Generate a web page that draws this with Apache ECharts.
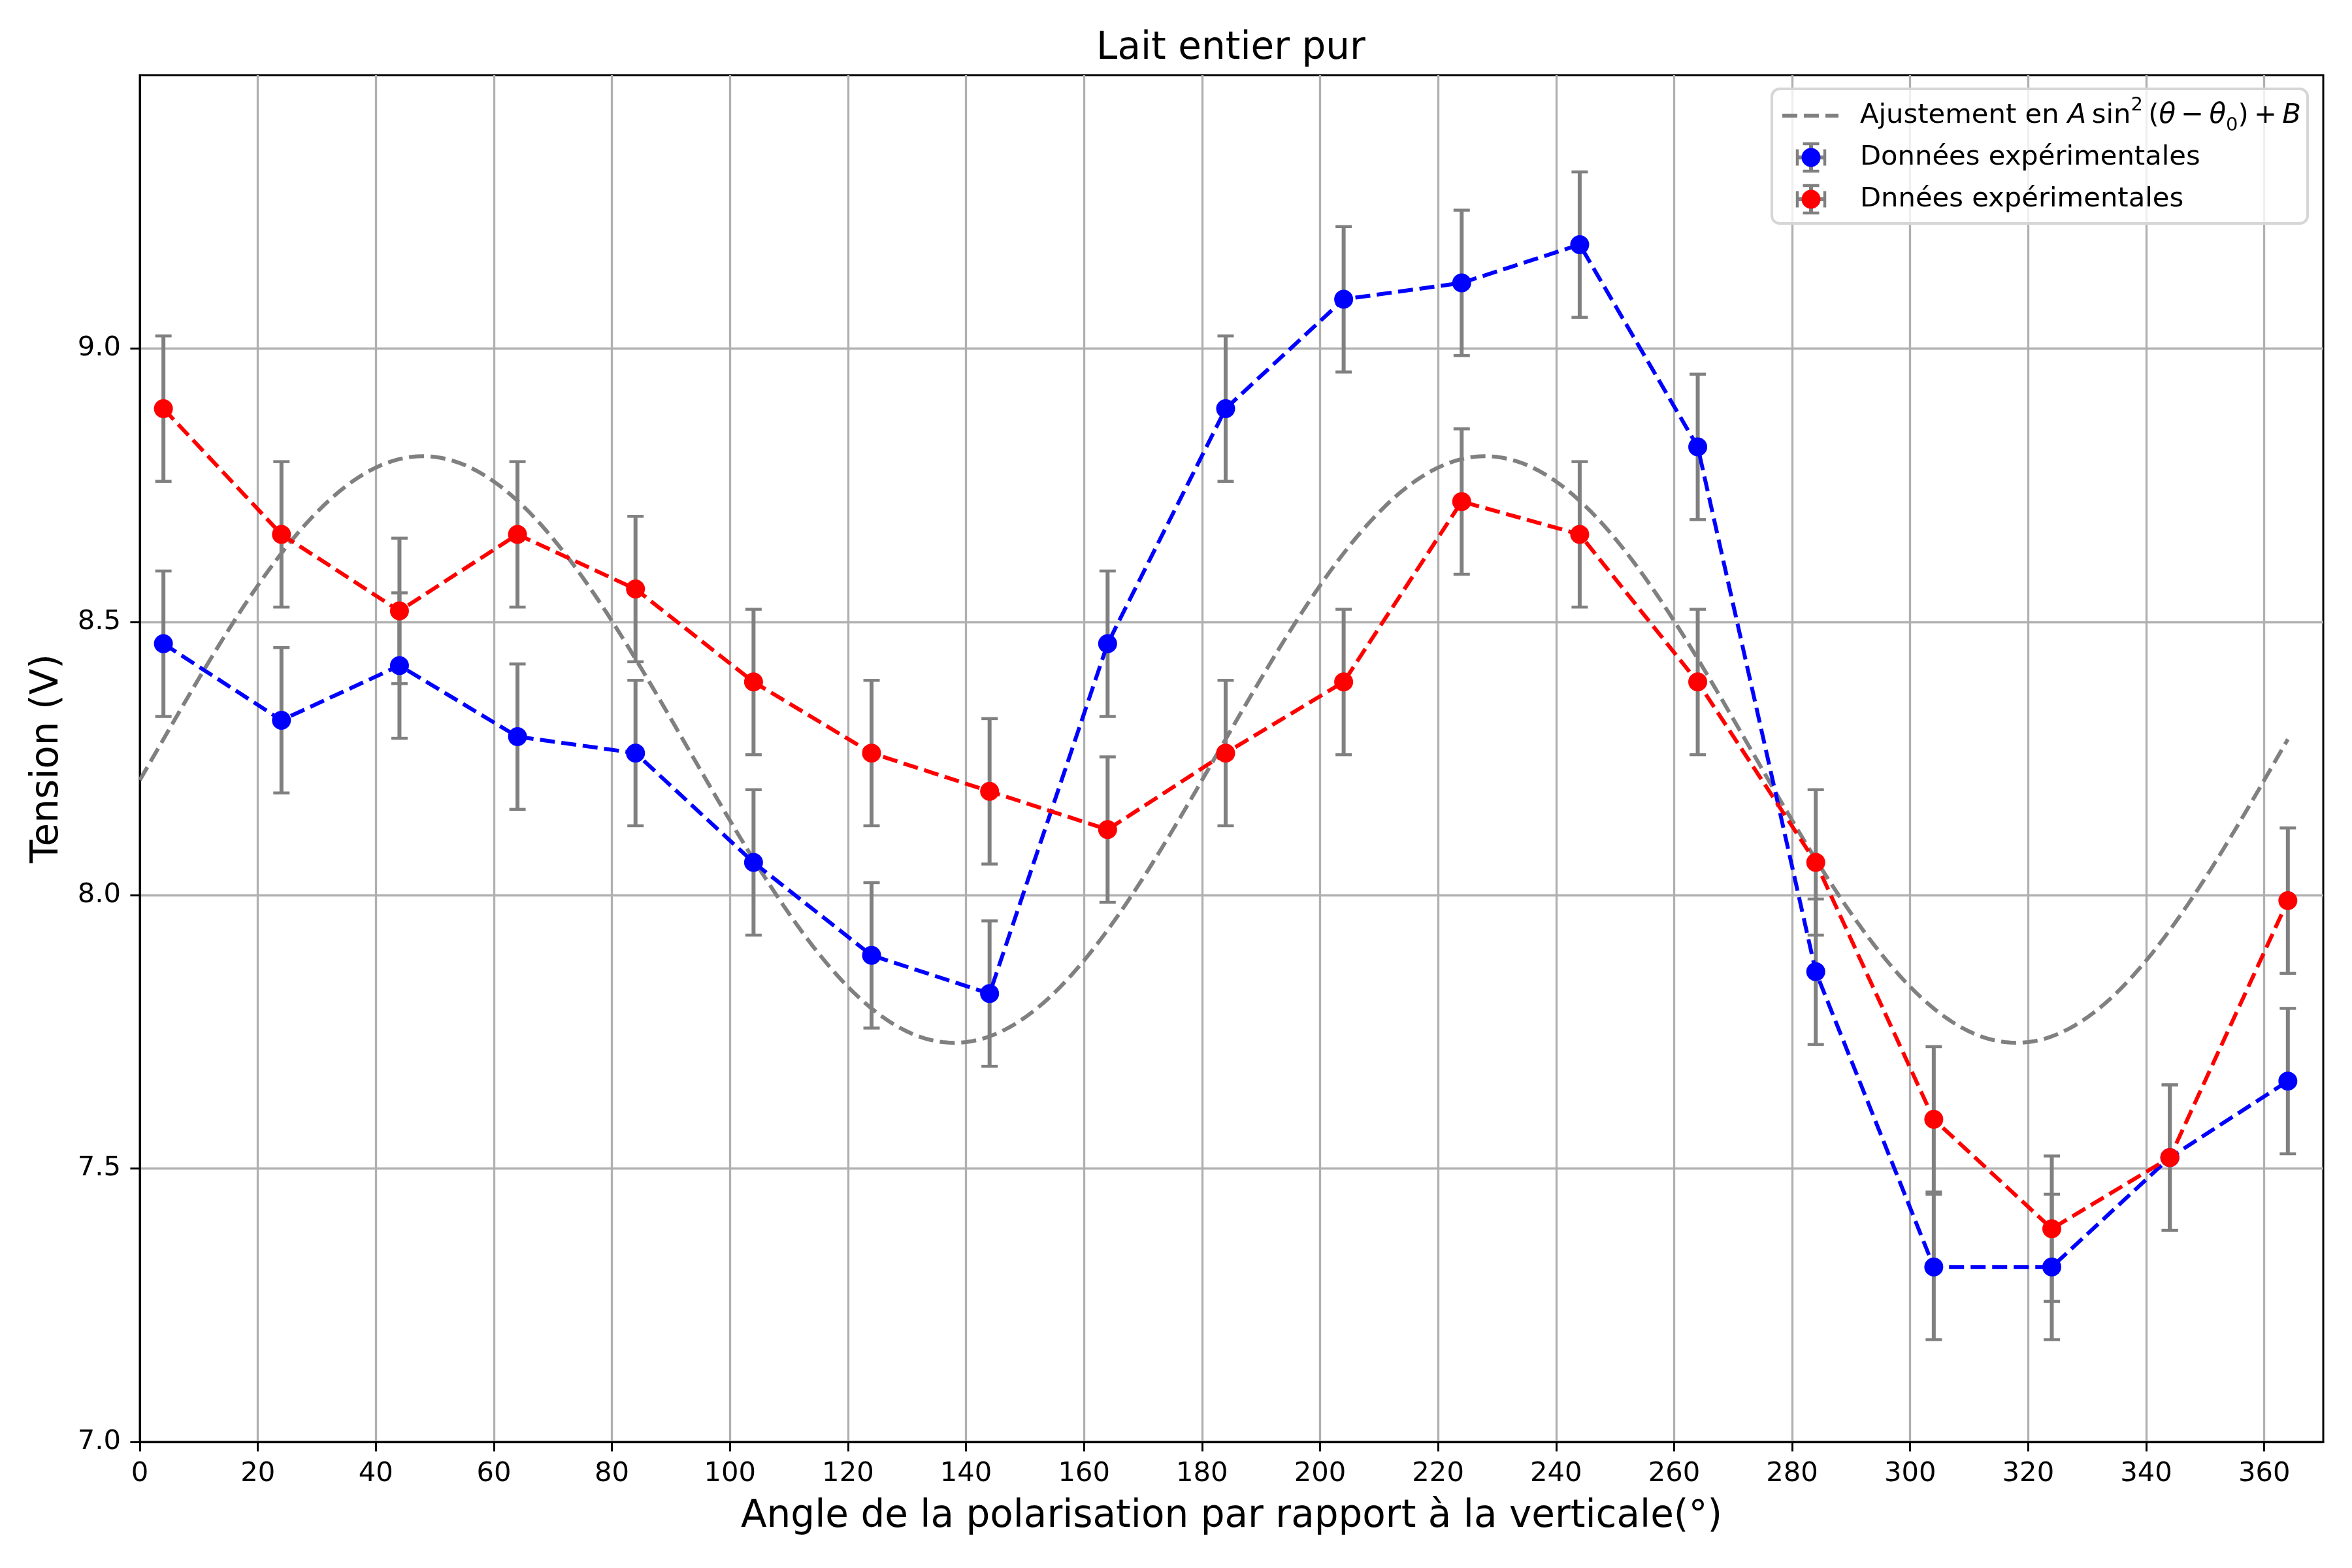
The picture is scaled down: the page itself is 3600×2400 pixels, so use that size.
<!DOCTYPE html>
<html>
<head>
<meta charset="utf-8">
<script src="https://cdn.jsdelivr.net/npm/echarts@6/dist/echarts.min.js"></script>
<style>html,body{margin:0;padding:0;background:#fff}#c{width:3600px;height:2400px}</style>
</head>
<body>
<div id="c"></div>
<script>
// ---- data ----
const angles = [4, 24, 44, 64, 84, 104, 124, 144, 164, 184, 204, 224, 244, 264, 284, 304, 324, 344, 364];
const tensionBleu = [8.46, 8.32, 8.42, 8.29, 8.26, 8.06, 7.89, 7.82, 8.46, 8.89, 9.09, 9.12, 9.19, 8.82, 7.86, 7.32, 7.32, 7.52, 7.66];
const tensionRouge = [8.89, 8.66, 8.52, 8.66, 8.56, 8.39, 8.26, 8.19, 8.12, 8.26, 8.39, 8.72, 8.66, 8.39, 8.06, 7.59, 7.39, 7.52, 7.99];
const erreurBleu = [0.133, 0.133, 0.133, 0.133, 0.133, 0.133, 0.133, 0.133, 0.133, 0.133, 0.133, 0.133, 0.133, 0.133, 0.133, 0.133, 0.133, 0.133, 0.133];
const erreurRouge = [0.133, 0.133, 0.133, 0.133, 0.133, 0.133, 0.133, 0.133, 0.133, 0.133, 0.133, 0.133, 0.133, 0.133, 0.133, 0.133, 0.133, 0.133, 0.133];
// fitted model A*sin^2(theta - theta0) + B (parameters read from the drawn fit)
const fitA = 1.073;
const fitB = 7.730;
const fitTheta0 = 138;
const fitRange = [0, 364];
const xTicks = [0, 20, 40, 60, 80, 100, 120, 140, 160, 180, 200, 220, 240, 260, 280, 300, 320, 340, 360];
const yTicks = [7.0, 7.5, 8.0, 8.5, 9.0];

// ---- build ----
const fitData = [];
for (let t = fitRange[0]; t <= fitRange[1]; t += 1) {
  const s = Math.sin((t - fitTheta0) * Math.PI / 180);
  fitData.push([t, fitA * s * s + fitB]);
}
const bleuPts = angles.map((a, i) => [a, tensionBleu[i]]);
const rougePts = angles.map((a, i) => [a, tensionRouge[i]]);
const bleuErr = angles.map((a, i) => [a, tensionBleu[i], erreurBleu[i]]);
const rougeErr = angles.map((a, i) => [a, tensionRouge[i], erreurRouge[i]]);

const FONT = 'DejaVu Sans';
const GRAY = '#808080';
const DASH = [23, 10];
const CAP = 12.5;

function errRender(params, api) {
  const x = api.value(0), y = api.value(1), e = api.value(2);
  const top = api.coord([x, y + e]);
  const bot = api.coord([x, y - e]);
  const st = { stroke: GRAY, lineWidth: 6 };
  const cs = { stroke: GRAY, lineWidth: 4.5 };
  return {
    type: 'group',
    children: [
      { type: 'line', shape: { x1: top[0], y1: top[1], x2: bot[0], y2: bot[1] }, style: st },
      { type: 'line', shape: { x1: top[0] - CAP, y1: top[1], x2: top[0] + CAP, y2: top[1] }, style: cs },
      { type: 'line', shape: { x1: bot[0] - CAP, y1: bot[1], x2: bot[0] + CAP, y2: bot[1] }, style: cs }
    ]
  };
}

function errHandle(cx, cy, color) {
  const r = 21;
  const cs = { stroke: GRAY, lineWidth: 4.5 };
  const st = { stroke: GRAY, lineWidth: 6 };
  return [
    { type: 'line', shape: { x1: cx, y1: cy - r, x2: cx, y2: cy + r }, style: st },
    { type: 'line', shape: { x1: cx - CAP, y1: cy - r, x2: cx + CAP, y2: cy - r }, style: cs },
    { type: 'line', shape: { x1: cx - CAP, y1: cy + r, x2: cx + CAP, y2: cy + r }, style: cs },
    { type: 'line', shape: { x1: cx - r, y1: cy, x2: cx + r, y2: cy }, style: st },
    { type: 'line', shape: { x1: cx - r, y1: cy - CAP, x2: cx - r, y2: cy + CAP }, style: cs },
    { type: 'line', shape: { x1: cx + r, y1: cy - CAP, x2: cx + r, y2: cy + CAP }, style: cs },
    { type: 'circle', shape: { cx: cx, cy: cy, r: 14.5 }, style: { fill: color } }
  ];
}

const LX = 2712, LY = 136, LW = 820, LH = 206;
const rows = [177, 241, 305];
const textX = 2847;
const handleX = 2772;

const legendEls = [
  { type: 'rect', shape: { x: LX, y: LY, width: LW, height: LH, r: 12 },
    style: { fill: 'rgba(255,255,255,0.8)', stroke: '#d6d6d6', lineWidth: 4 } },
  { type: 'line', shape: { x1: 2728, y1: rows[0], x2: 2814, y2: rows[0] },
    style: { stroke: GRAY, lineWidth: 6, lineDash: DASH } },
  { type: 'text', x: textX, y: rows[0],
    style: {
      text: '{n|Ajustement en }{i|A}{n|\u2009sin}{sup|2}{n|\u2009(}{i|θ}{n|\u2009−\u2009}{i|θ}{sub|0}{n|)\u2009+\u2009}{i|B}',
      verticalAlign: 'middle', align: 'left',
      rich: {
        n: { fontFamily: FONT, fontSize: 41.7, fill: '#000', lineHeight: 60 },
        i: { fontFamily: FONT, fontSize: 41.7, fontStyle: 'italic', fill: '#000', lineHeight: 60 },
        sup: { fontFamily: FONT, fontSize: 29, fill: '#000', verticalAlign: 'top', lineHeight: 60 },
        sub: { fontFamily: FONT, fontSize: 29, fill: '#000', verticalAlign: 'bottom', lineHeight: 60 }
      }
    } },
  ...errHandle(handleX, rows[1], '#0000ff'),
  { type: 'text', x: textX, y: rows[1],
    style: { text: 'Données expérimentales', fontFamily: FONT, fontSize: 41.7, fill: '#000', verticalAlign: 'middle', align: 'left' } },
  ...errHandle(handleX, rows[2], '#ff0000'),
  { type: 'text', x: textX, y: rows[2],
    style: { text: 'Dnnées expérimentales', fontFamily: FONT, fontSize: 41.7, fill: '#000', verticalAlign: 'middle', align: 'left' } }
].map(e => Object.assign({ z: 100 }, e));

const chart = echarts.init(document.getElementById('c'), null, { renderer: 'canvas' });
chart.setOption({
  animation: false,
  backgroundColor: '#fff',
  title: {
    text: 'Lait entier pur',
    left: 1879, top: 41, textAlign: 'center',
    textStyle: { fontFamily: FONT, fontSize: 58, fontWeight: 'normal', color: '#000' }
  },
  grid: { left: 214, right: 44, top: 115, bottom: 193, show: true, borderColor: '#000', borderWidth: 3, backgroundColor: 'transparent' },
  xAxis: {
    type: 'value', min: 0, max: 370, interval: 20,
    name: 'Angle de la polarisation par rapport à la verticale(°)',
    nameLocation: 'middle', nameGap: 86,
    nameTextStyle: { fontFamily: FONT, fontSize: 58, color: '#000' },
    axisLine: { show: true, onZero: false, lineStyle: { color: '#000', width: 3 } },
    axisTick: { show: true, length: 14.6, lineStyle: { color: '#000', width: 3 }, customValues: xTicks },
    axisLabel: { fontFamily: FONT, fontSize: 41.7, color: '#000', margin: 28, customValues: xTicks,
      formatter: v => String(Math.round(v)) },
    splitLine: { show: true, lineStyle: { color: '#b0b0b0', width: 3.3 } }
  },
  yAxis: {
    type: 'value', min: 7.0, max: 9.5, interval: 0.5,
    name: 'Tension (V)',
    nameLocation: 'middle', nameGap: 112, nameRotate: 90,
    nameTextStyle: { fontFamily: FONT, fontSize: 58, color: '#000' },
    axisLine: { show: true, onZero: false, lineStyle: { color: '#000', width: 3 } },
    axisTick: { show: true, length: 14.6, lineStyle: { color: '#000', width: 3 }, customValues: yTicks },
    axisLabel: { fontFamily: FONT, fontSize: 41.7, color: '#000', margin: 29, customValues: yTicks,
      formatter: v => v.toFixed(1) },
    splitLine: { show: true, lineStyle: { color: '#b0b0b0', width: 3.3 } }
  },
  series: [
    { name: 'Ajustement', type: 'line', data: fitData, showSymbol: false, symbol: 'none', silent: true,
      lineStyle: { color: GRAY, width: 6, type: DASH }, z: 2 },
    { name: 'Données expérimentales', type: 'custom', data: bleuErr, renderItem: errRender, z: 3 },
    { name: 'Dnnées expérimentales', type: 'custom', data: rougeErr, renderItem: errRender, z: 3 },
    { name: 'bleu', type: 'line', data: bleuPts, symbol: 'circle', symbolSize: 29,
      itemStyle: { color: '#0000ff' }, lineStyle: { color: '#0000ff', width: 6, type: DASH }, z: 4 },
    { name: 'rouge', type: 'line', data: rougePts, symbol: 'circle', symbolSize: 29,
      itemStyle: { color: '#ff0000' }, lineStyle: { color: '#ff0000', width: 6, type: DASH }, z: 5 }
  ],
  graphic: legendEls
});
</script>
</body>
</html>
